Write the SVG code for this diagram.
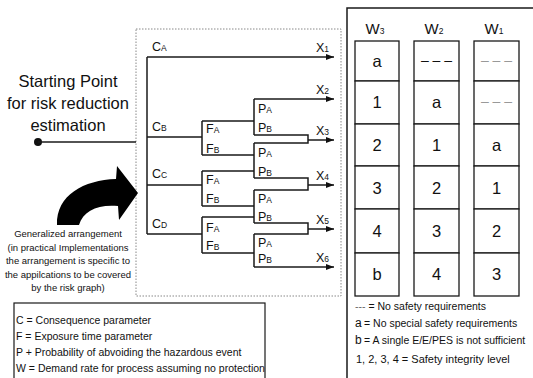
<svg xmlns="http://www.w3.org/2000/svg" width="533" height="378" viewBox="0 0 533 378">
<defs>
<marker id="ah" markerUnits="userSpaceOnUse" markerWidth="8" markerHeight="6" refX="8" refY="3" orient="auto">
<path d="M0,0 L8,3 L0,6 z" fill="#111"/>
</marker>
</defs>
<style>
text{font-family:"Liberation Sans",Arial,sans-serif;fill:#111}
.ln{fill:none;stroke:#1a1a1a;stroke-width:1.5}
.lb{font-size:12.5px}
.sb{font-size:8.5px}
.cell{fill:#fff;stroke:#1a1a1a;stroke-width:1.3}
.ct{font-size:16.5px;text-anchor:middle}
.hd{font-size:15px;text-anchor:middle}
.sm{font-size:10.5px}
.gn{font-size:9.5px;text-anchor:middle}
</style>
<rect width="533" height="378" fill="#fff"/>

<!-- dotted frame -->
<rect x="136" y="29" width="205" height="267" fill="none" stroke="#888" stroke-width="1" stroke-dasharray="1.5 1.5"/>

<g id="start">
<text x="68" y="87" font-size="16.5" text-anchor="middle">Starting Point</text>
<text x="68" y="109" font-size="16.5" text-anchor="middle">for risk reduction</text>
<text x="68" y="131" font-size="16.5" text-anchor="middle">estimation</text>
<circle cx="38" cy="142" r="4" fill="#111"/>
<path class="ln" d="M38,142 H136"/>
</g>

<g id="connectors">
<path class="ln" d="M147,57 V234"/>
<path class="ln" d="M147,57 H334" marker-end="url(#ah)"/>
<path class="ln" d="M147,137 H202 M147,185 H202 M147,234 H202"/>
<path class="ln" d="M202,121 V155 M202,171 V206 M202,217 V253"/>
<path class="ln" d="M202,121 H254 M202,155 H254 M202,171 H254 M202,206 H254 M202,217 H254 M202,253 H254"/>
<path class="ln" d="M254,99 V135 M254,143 V178 M254,190 V223 M254,234 V267"/>
<path class="ln" d="M254,99 H334" marker-end="url(#ah)"/>
<path class="ln" d="M254,135 H308 V143 H254"/>
<path class="ln" d="M308,140 H334" marker-end="url(#ah)"/>
<path class="ln" d="M254,178 H308 V190 H254"/>
<path class="ln" d="M308,185 H334" marker-end="url(#ah)"/>
<path class="ln" d="M254,223 H308 V234 H254"/>
<path class="ln" d="M308,229 H334" marker-end="url(#ah)"/>
<path class="ln" d="M254,267 H334" marker-end="url(#ah)"/>
</g>

<g id="c-labels">
<text class="lb" x="152" y="51">C<tspan class="sb">A</tspan></text>
<text class="lb" x="152" y="131">C<tspan class="sb">B</tspan></text>
<text class="lb" x="152" y="178">C<tspan class="sb">C</tspan></text>
<text class="lb" x="152" y="228">C<tspan class="sb">D</tspan></text>
</g>
<g id="f-labels">
<text class="lb" x="206" y="133">F<tspan class="sb">A</tspan></text>
<text class="lb" x="206" y="153">F<tspan class="sb">B</tspan></text>
<text class="lb" x="206" y="184">F<tspan class="sb">A</tspan></text>
<text class="lb" x="206" y="203">F<tspan class="sb">B</tspan></text>
<text class="lb" x="206" y="232">F<tspan class="sb">A</tspan></text>
<text class="lb" x="206" y="250">F<tspan class="sb">B</tspan></text>
</g>
<g id="p-labels">
<text class="lb" x="258" y="113">P<tspan class="sb">A</tspan></text>
<text class="lb" x="258" y="132">P<tspan class="sb">B</tspan></text>
<text class="lb" x="258" y="157">P<tspan class="sb">A</tspan></text>
<text class="lb" x="258" y="176">P<tspan class="sb">B</tspan></text>
<text class="lb" x="258" y="203">P<tspan class="sb">A</tspan></text>
<text class="lb" x="258" y="221">P<tspan class="sb">B</tspan></text>
<text class="lb" x="258" y="247">P<tspan class="sb">A</tspan></text>
<text class="lb" x="258" y="263">P<tspan class="sb">B</tspan></text>
</g>
<g id="x-labels">
<text class="lb" x="316" y="52">X<tspan class="sb">1</tspan></text>
<text class="lb" x="316" y="94">X<tspan class="sb">2</tspan></text>
<text class="lb" x="316" y="135">X<tspan class="sb">3</tspan></text>
<text class="lb" x="316" y="180">X<tspan class="sb">4</tspan></text>
<text class="lb" x="316" y="224">X<tspan class="sb">5</tspan></text>
<text class="lb" x="316" y="262">X<tspan class="sb">6</tspan></text>
</g>

<g id="general">
<path d="M57,225 C56,195 84,180 116,179 L117,166 L138,193 L119,220 L118,206 C98,204 83,211 79,225 Z" fill="#000"/>
<text class="gn" x="68" y="237">Generalized arrangement</text>
<text class="gn" x="68" y="250.5">(in practical Implementations</text>
<text class="gn" x="68" y="264">the arrangement is specific to</text>
<text class="gn" x="68" y="277.5">the appilcations to be covered</text>
<text class="gn" x="68" y="291">by the risk graph)</text>
</g>

<g id="legend-left">
<rect x="14" y="303" width="251" height="90" fill="none" stroke="#1a1a1a" stroke-width="1.2"/>
<text class="sm" x="16" y="324">C = Consequence parameter</text>
<text class="sm" x="16" y="340">F = Exposure time parameter</text>
<text class="sm" x="16" y="356">P + Probability of abvoiding the hazardous event</text>
<text class="sm" x="16" y="372">W = Demand rate for process assuming no protection</text>
</g>

<g id="table">
<rect x="347" y="8" width="200" height="380" fill="none" stroke="#1a1a1a" stroke-width="1.5"/>
</g>

<g id="col-w3">
<text class="hd" x="375" y="34">W<tspan font-size="8.5">3</tspan></text>
<rect class="cell" x="355" y="41" width="44" height="40"/>
<rect class="cell" x="355" y="81" width="44" height="43"/>
<rect class="cell" x="355" y="124" width="44" height="42"/>
<rect class="cell" x="355" y="166" width="44" height="43"/>
<rect class="cell" x="355" y="209" width="44" height="44"/>
<rect class="cell" x="355" y="253" width="44" height="43"/>
<text class="ct" x="377" y="67">a</text>
<text class="ct" x="377" y="108">1</text>
<text class="ct" x="377" y="151">2</text>
<text class="ct" x="377" y="194">3</text>
<text class="ct" x="377" y="237">4</text>
<text class="ct" x="377" y="280">b</text>
</g>

<g id="col-w2">
<text class="hd" x="434" y="34">W<tspan font-size="8.5">2</tspan></text>
<rect class="cell" x="414" y="41" width="45" height="40"/>
<rect class="cell" x="414" y="81" width="45" height="43"/>
<rect class="cell" x="414" y="124" width="45" height="42"/>
<rect class="cell" x="414" y="166" width="45" height="43"/>
<rect class="cell" x="414" y="209" width="45" height="44"/>
<rect class="cell" x="414" y="253" width="45" height="43"/>
<text x="436.5" y="65" font-size="14" text-anchor="middle" fill="#333">– – –</text>
<text class="ct" x="436.5" y="108">a</text>
<text class="ct" x="436.5" y="151">1</text>
<text class="ct" x="436.5" y="194">2</text>
<text class="ct" x="436.5" y="237">3</text>
<text class="ct" x="436.5" y="280">4</text>
</g>

<g id="col-w1">
<text class="hd" x="494" y="34">W<tspan font-size="8.5">1</tspan></text>
<rect class="cell" x="474" y="41" width="45" height="40"/>
<rect class="cell" x="474" y="81" width="45" height="43"/>
<rect class="cell" x="474" y="124" width="45" height="42"/>
<rect class="cell" x="474" y="166" width="45" height="43"/>
<rect class="cell" x="474" y="209" width="45" height="44"/>
<rect class="cell" x="474" y="253" width="45" height="43"/>
<text x="496.5" y="65" font-size="14" text-anchor="middle" style="fill:#999">– – –</text>
<text x="496.5" y="106" font-size="14" text-anchor="middle" style="fill:#999">– – –</text>
<text class="ct" x="496.5" y="151">a</text>
<text class="ct" x="496.5" y="194">1</text>
<text class="ct" x="496.5" y="237">2</text>
<text class="ct" x="496.5" y="280">3</text>
</g>

<g id="legend-right">
<text class="sm" x="355" y="310"><tspan fill="#666">---</tspan> = No safety requirements</text>
<text class="sm" x="355" y="327"><tspan font-size="12">a</tspan><tspan x="364">= No special safety requirements</tspan></text>
<text class="sm" x="355" y="344"><tspan font-size="12">b</tspan><tspan x="364">= A single E/E/PES is not sufficient</tspan></text>
<text x="356" y="363" font-size="11">1, 2, 3, 4 = Safety integrity level</text>
</g>
</svg>
